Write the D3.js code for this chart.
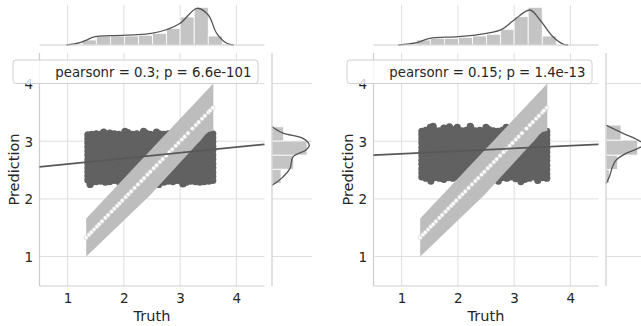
<!DOCTYPE html>
<html><head><meta charset="utf-8">
<script src="https://cdn.jsdelivr.net/npm/d3@7"></script>
<style>
body{margin:0;background:#fff}
svg{display:block}
text{font-family:"DejaVu Sans",sans-serif;fill:#262626}
</style>
</head><body>
<svg id="chart" width="641" height="326"></svg>
<script>
// ---------------- data ----------------
const xTicks = [1, 2, 3, 4];
const yTicks = [1, 2, 3, 4];
const xLabel = "Truth";
const yLabel = "Prediction";
const legendLabels = ["pearsonr = 0.3; p = 6.6e-101", "pearsonr = 0.15; p = 1.4e-13"];

// truth levels of the scatter columns
const truthLevels = [1.36,1.43,1.51,1.59,1.67,1.75,1.83,1.91,1.99,2.07,2.15,2.23,2.31,2.39,2.47,2.55,2.63,2.71,2.79,2.87,2.95,3.03,3.11,3.19,3.27,3.35,3.43,3.51,3.58];

// predictions per truth column, left model
const predLeft = [
 [2.33,2.40,2.47,2.54,2.61,2.68,2.76,2.83,2.90,2.97,3.04,3.11],
 [2.29,2.36,2.44,2.51,2.59,2.66,2.74,2.81,2.89,2.96,3.04,3.12],
 [2.30,2.38,2.45,2.53,2.60,2.68,2.75,2.83,2.90,2.98,3.05,3.13],
 [2.31,2.38,2.46,2.53,2.61,2.68,2.76,2.83,2.91,2.98,3.06,3.12],
 [2.29,2.37,2.44,2.52,2.59,2.67,2.74,2.82,2.89,2.97,3.04,3.11],
 [2.30,2.38,2.45,2.53,2.60,2.68,2.76,2.83,2.91,2.98,3.06,3.14],
 [2.32,2.39,2.46,2.54,2.61,2.69,2.76,2.84,2.91,2.99,3.06,3.13],
 [2.30,2.37,2.45,2.52,2.60,2.67,2.75,2.82,2.90,2.97,3.05,3.12],
 [2.29,2.36,2.44,2.51,2.59,2.66,2.74,2.81,2.89,2.96,3.04,3.11],
 [2.31,2.38,2.46,2.53,2.61,2.68,2.76,2.83,2.91,2.98,3.06,3.15],
 [2.30,2.37,2.45,2.52,2.60,2.67,2.75,2.82,2.90,2.97,3.05,3.12],
 [2.32,2.39,2.47,2.54,2.62,2.69,2.76,2.84,2.91,2.99,3.06,3.13],
 [2.29,2.37,2.44,2.52,2.59,2.67,2.74,2.82,2.89,2.97,3.04,3.11],
 [2.30,2.38,2.45,2.53,2.60,2.68,2.75,2.83,2.90,2.98,3.05,3.14],
 [2.31,2.38,2.46,2.53,2.61,2.68,2.76,2.83,2.91,2.98,3.06,3.12],
 [2.33,2.40,2.47,2.54,2.62,2.69,2.76,2.84,2.91,2.98,3.05,3.11],
 [2.30,2.37,2.45,2.52,2.60,2.67,2.75,2.82,2.90,2.97,3.05,3.13],
 [2.29,2.36,2.44,2.51,2.59,2.66,2.74,2.81,2.89,2.96,3.04,3.12],
 [2.31,2.38,2.46,2.53,2.61,2.68,2.76,2.83,2.91,2.98,3.06,3.13],
 [2.30,2.38,2.45,2.53,2.60,2.68,2.75,2.83,2.90,2.98,3.05,3.12],
 [2.32,2.39,2.46,2.54,2.61,2.69,2.76,2.84,2.91,2.99,3.06,3.11],
 [2.30,2.37,2.45,2.52,2.60,2.67,2.75,2.82,2.90,2.97,3.05,3.12],
 [2.29,2.37,2.44,2.52,2.59,2.67,2.74,2.82,2.89,2.97,3.04,3.12],
 [2.31,2.38,2.46,2.53,2.61,2.68,2.76,2.83,2.91,2.98,3.06,3.13],
 [2.30,2.37,2.45,2.52,2.60,2.67,2.75,2.82,2.90,2.97,3.05,3.13],
 [2.29,2.36,2.44,2.51,2.59,2.66,2.74,2.81,2.89,2.96,3.04,3.12],
 [2.30,2.38,2.45,2.53,2.60,2.68,2.75,2.83,2.90,2.98,3.05,3.14],
 [2.31,2.38,2.46,2.53,2.61,2.68,2.76,2.83,2.91,2.98,3.06,3.12],
 [2.32,2.39,2.46,2.54,2.61,2.69,2.76,2.84,2.91,2.99,3.06,3.13]
];
// scattered edge points of the left model [truth, prediction]
const extraLeft = [[1.40,2.25],[1.98,2.26],[2.62,2.25],[3.05,2.26],[1.64,3.16],[2.02,3.17],[2.35,3.17],[2.58,3.16],[3.40,3.17]];

// predictions per truth column, right model
const predRight = [
 [2.38,2.45,2.52,2.60,2.67,2.75,2.82,2.89,2.97,3.04,3.11,3.17],
 [2.36,2.43,2.51,2.58,2.66,2.73,2.81,2.88,2.96,3.03,3.11,3.19],
 [2.35,2.43,2.50,2.58,2.65,2.73,2.80,2.88,2.95,3.03,3.10,3.18,3.24],
 [2.37,2.44,2.52,2.59,2.67,2.74,2.82,2.89,2.97,3.04,3.12,3.19],
 [2.36,2.43,2.51,2.58,2.66,2.73,2.81,2.88,2.96,3.03,3.11,3.18],
 [2.34,2.42,2.50,2.57,2.65,2.72,2.80,2.87,2.95,3.02,3.10,3.17,3.23],
 [2.37,2.44,2.52,2.59,2.67,2.74,2.82,2.89,2.97,3.04,3.12,3.19],
 [2.36,2.43,2.51,2.58,2.66,2.73,2.81,2.88,2.96,3.03,3.11,3.20],
 [2.38,2.45,2.52,2.60,2.67,2.75,2.82,2.89,2.97,3.04,3.11,3.18,3.24],
 [2.35,2.43,2.50,2.58,2.65,2.73,2.80,2.88,2.95,3.03,3.10,3.18],
 [2.37,2.44,2.52,2.59,2.67,2.74,2.82,2.89,2.97,3.04,3.12,3.19],
 [2.34,2.42,2.50,2.57,2.65,2.72,2.80,2.87,2.95,3.02,3.10,3.17,3.23],
 [2.36,2.43,2.51,2.58,2.66,2.73,2.81,2.88,2.96,3.03,3.11,3.18],
 [2.38,2.45,2.52,2.60,2.67,2.75,2.82,2.89,2.97,3.04,3.11,3.19],
 [2.35,2.43,2.50,2.58,2.65,2.73,2.80,2.88,2.95,3.03,3.10,3.17],
 [2.37,2.44,2.52,2.59,2.67,2.74,2.82,2.89,2.97,3.04,3.12,3.20],
 [2.36,2.43,2.51,2.58,2.66,2.73,2.81,2.88,2.96,3.03,3.11,3.18],
 [2.34,2.42,2.50,2.57,2.65,2.72,2.80,2.87,2.95,3.02,3.10,3.17],
 [2.37,2.44,2.52,2.59,2.67,2.74,2.82,2.89,2.97,3.04,3.12,3.19],
 [2.36,2.43,2.51,2.58,2.66,2.73,2.81,2.88,2.96,3.03,3.11,3.18],
 [2.38,2.45,2.52,2.60,2.67,2.75,2.82,2.89,2.97,3.04,3.11,3.17],
 [2.35,2.43,2.50,2.58,2.65,2.73,2.80,2.88,2.95,3.03,3.10,3.18],
 [2.37,2.44,2.52,2.59,2.67,2.74,2.82,2.89,2.97,3.04,3.12,3.19],
 [2.34,2.42,2.50,2.57,2.65,2.72,2.80,2.87,2.95,3.02,3.10,3.17],
 [2.36,2.43,2.51,2.58,2.66,2.73,2.81,2.88,2.96,3.03,3.11,3.18],
 [2.38,2.45,2.52,2.60,2.67,2.75,2.82,2.89,2.97,3.04,3.11,3.18],
 [2.35,2.43,2.50,2.58,2.65,2.73,2.80,2.88,2.95,3.03,3.10,3.17],
 [2.37,2.44,2.52,2.59,2.67,2.74,2.82,2.89,2.97,3.04,3.12,3.18],
 [2.36,2.43,2.51,2.58,2.66,2.73,2.81,2.88,2.96,3.03,3.11,3.17]
];
// scattered edge points of the right model [truth, prediction]
const extraRight = [[1.56,3.26],[1.85,3.25],[2.22,3.26],[2.50,3.24],[2.86,3.24],[1.52,2.31],[2.30,2.30],[2.72,2.31],[3.12,2.30],[3.42,2.32]];

// identity points (truth vs truth) and their band
const diagTruth = [1.33,1.38,1.42,1.47,1.52,1.56,1.61,1.67,1.72,1.78,1.83,1.88,1.92,1.97,2.03,2.08,2.13,2.19,2.25,2.31,2.36,2.42,2.47,2.53,2.58,2.64,2.69,2.75,2.81,2.86,2.92,2.97,3.03,3.08,3.14,3.22,3.28,3.33,3.39,3.44,3.50,3.53,3.58];
const bandUpper = [[1.33,1.66],[3.59,4.00]];
const bandLower = [[1.33,1.00],[2.47,2.07],[3.18,2.82],[3.30,2.95],[3.36,3.01],[3.44,3.11],[3.50,3.16],[3.59,3.18]];

// regression lines (ends at the axis limits)
const regLeft = [[0.5,2.557],[4.5,2.946]];
const regRight = [[0.5,2.76],[4.5,2.946]];

// top marginal (truth) histograms and KDEs
const histTopEdges = [1.26,1.51,1.76,2.01,2.26,2.51,2.76,3.00,3.25,3.50,3.75];
const histTopLeft = [5,9,9,9,9.7,11.7,16.7,28,37.7,9];
const histTopRight = [5,6.7,6.7,7.7,9,10.7,15.7,28.3,37.7,9];
const kdeTopLeft = [[0.98,0],[1.22,2.3],[1.49,8.3],[1.75,9.3],[2.23,10.3],[2.49,11.7],[2.74,15],[3.0,21.7],[3.30,36.7],[3.50,30],[3.65,11.7],[3.83,1.7],[3.95,0]];
const kdeTopRight = [[0.94,0],[1.27,2.3],[1.50,6.7],[2.01,8.3],[2.51,11.7],[2.78,15.7],[3.0,25],[3.28,35],[3.46,25],[3.69,8.3],[3.88,0.7],[3.96,0]];

// right marginal (prediction) histograms and KDEs
const histSideEdgesLeft = [2.27,2.515,2.76,3.005,3.25];
const histSideLeft = [9,21.7,35,11.7];
const histSideEdgesRight = [2.27,2.51,2.76,3.02,3.28];
const histSideRight = [3.3,11.7,31.7,15];
const kdeSideLeft = [[3.25,0],[3.14,11],[3.05,31],[2.93,37.3],[2.85,34],[2.73,21],[2.53,18],[2.36,9.7],[2.27,3],[2.24,0]];
const kdeSideRight = [[3.28,0],[3.14,16.6],[3.02,32],[2.94,38],[2.86,30],[2.79,20],[2.67,10],[2.56,6.6],[2.38,3.3],[2.27,0]];

// ---------------- drawing ----------------
const svg = d3.select("#chart");
const GRID = "#dedede", SPINE = "#cdcdcd", DARK = "#616161";
const panels = [
  {off: 0, preds: predLeft, extra: extraLeft, reg: regLeft, hTop: histTopLeft, kTop: kdeTopLeft,
   sEdges: histSideEdgesLeft, hSide: histSideLeft, kSide: kdeSideLeft, legend: legendLabels[0]},
  {off: 334, preds: predRight, extra: extraRight, reg: regRight, hTop: histTopRight, kTop: kdeTopRight,
   sEdges: histSideEdgesRight, hSide: histSideRight, kSide: kdeSideRight, legend: legendLabels[1]}
];

panels.forEach(p => {
  const o = p.off;
  const x = d3.scaleLinear().domain([0.5, 4.5]).range([39.5 + o, 264.5 + o]);
  const y = d3.scaleLinear().domain([0.49, 4.53]).range([286, 53]);
  const yTop = d3.scaleLinear().domain([0, 40]).range([45, 5]);
  const xSide = d3.scaleLinear().domain([0, 40]).range([272 + o, 312 + o]);
  const g = svg.append("g");

  // main grid
  g.append("g").selectAll("line").data(xTicks).join("line")
    .attr("x1", d => x(d)).attr("x2", d => x(d)).attr("y1", 53).attr("y2", 286)
    .attr("stroke", GRID).attr("stroke-width", 1);
  g.append("g").selectAll("line").data(yTicks).join("line")
    .attr("x1", x.range()[0]).attr("x2", x.range()[1]).attr("y1", d => y(d)).attr("y2", d => y(d))
    .attr("stroke", GRID).attr("stroke-width", 1);

  // top marginal grid
  g.append("g").selectAll("line").data(xTicks).join("line")
    .attr("x1", d => x(d)).attr("x2", d => x(d)).attr("y1", 5).attr("y2", 45)
    .attr("stroke", GRID).attr("stroke-width", 1);
  // side marginal grid
  g.append("g").selectAll("line").data(yTicks).join("line")
    .attr("x1", xSide.range()[0]).attr("x2", xSide.range()[1]).attr("y1", d => y(d)).attr("y2", d => y(d))
    .attr("stroke", GRID).attr("stroke-width", 1);

  // top histogram
  g.append("g").selectAll("rect").data(p.hTop).join("rect")
    .attr("x", (d, i) => x(histTopEdges[i]))
    .attr("width", (d, i) => x(histTopEdges[i + 1]) - x(histTopEdges[i]))
    .attr("y", d => yTop(d)).attr("height", d => yTop(0) - yTop(d))
    .attr("fill", "#c4c4c4").attr("stroke", "#fff").attr("stroke-width", 0.8);
  g.append("path").datum(p.kTop)
    .attr("d", d3.line().x(d => x(d[0])).y(d => yTop(d[1])).curve(d3.curveCatmullRom.alpha(0.5)))
    .attr("fill", "none").attr("stroke", "#555").attr("stroke-width", 1.3);

  // side histogram
  g.append("g").selectAll("rect").data(p.hSide).join("rect")
    .attr("x", xSide(0))
    .attr("width", d => xSide(d) - xSide(0))
    .attr("y", (d, i) => y(p.sEdges[i + 1]))
    .attr("height", (d, i) => y(p.sEdges[i]) - y(p.sEdges[i + 1]))
    .attr("fill", "#c4c4c4").attr("stroke", "#fff").attr("stroke-width", 0.8);
  g.append("path").datum(p.kSide)
    .attr("d", d3.line().x(d => xSide(d[1])).y(d => y(d[0])).curve(d3.curveCatmullRom.alpha(0.5)))
    .attr("fill", "none").attr("stroke", "#555").attr("stroke-width", 1.3);

  // spines
  g.append("line").attr("x1", x.range()[0]).attr("x2", x.range()[1]).attr("y1", 45).attr("y2", 45)
    .attr("stroke", SPINE).attr("stroke-width", 1.2);
  g.append("line").attr("x1", xSide(0)).attr("x2", xSide(0)).attr("y1", 53).attr("y2", 286)
    .attr("stroke", SPINE).attr("stroke-width", 1.2);
  g.append("line").attr("x1", x.range()[0]).attr("x2", x.range()[0]).attr("y1", 53).attr("y2", 286)
    .attr("stroke", SPINE).attr("stroke-width", 1.2);
  g.append("line").attr("x1", x.range()[0]).attr("x2", x.range()[1]).attr("y1", 286).attr("y2", 286)
    .attr("stroke", SPINE).attr("stroke-width", 1.2);

  // scatter
  const pts = [];
  truthLevels.forEach((t, i) => p.preds[i].forEach(v => pts.push([t, v])));
  p.extra.forEach(d => pts.push(d));
  g.append("g").selectAll("circle").data(pts).join("circle")
    .attr("cx", d => x(d[0])).attr("cy", d => y(d[1])).attr("r", 3.6)
    .attr("fill", DARK);

  // identity band
  const poly = bandUpper.concat(bandLower.slice().reverse());
  g.append("path")
    .attr("d", d3.line().x(d => x(d[0])).y(d => y(d[1]))(poly) + "Z")
    .attr("fill", "#bdbdbd");
  g.append("g").selectAll("circle").data(diagTruth).join("circle")
    .attr("cx", d => x(d)).attr("cy", d => y(d)).attr("r", 2.1)
    .attr("fill", "#fff").attr("stroke", "#cfcfcf").attr("stroke-width", 0.6);

  // regression line
  g.append("path").datum(p.reg)
    .attr("d", d3.line().x(d => x(d[0])).y(d => y(d[1])))
    .attr("stroke", "#585858").attr("stroke-width", 1.8).attr("fill", "none");

  // axes (labels only)
  const ax = g.append("g").attr("transform", "translate(0,286)")
    .call(d3.axisBottom(x).tickValues(xTicks).tickSize(0).tickPadding(7.6).tickFormat(d3.format("d")));
  ax.select(".domain").remove();
  ax.selectAll("text").attr("font-size", 13.5).attr("font-family", "DejaVu Sans").attr("fill", "#262626");
  const ay = g.append("g").attr("transform", `translate(${x.range()[0]},0)`)
    .call(d3.axisLeft(y).tickValues(yTicks).tickSize(0).tickPadding(6.5).tickFormat(d3.format("d")));
  ay.select(".domain").remove();
  ay.selectAll("text").attr("font-size", 13.5).attr("dy", "0.365em").attr("font-family", "DejaVu Sans").attr("fill", "#262626");

  g.append("text").attr("x", (x.range()[0] + x.range()[1]) / 2).attr("y", 320.5)
    .attr("text-anchor", "middle").attr("font-size", 14.5).text(xLabel);
  g.append("text").attr("transform", `translate(${19 + o},169.5) rotate(-90)`)
    .attr("text-anchor", "middle").attr("font-size", 14.5).text(yLabel);

  // legend box
  g.append("rect").attr("x", 13 + o).attr("y", 60).attr("width", 245).attr("height", 23.5)
    .attr("rx", 3).attr("fill", "#fff").attr("fill-opacity", 0.8)
    .attr("stroke", "#d0d0d0").attr("stroke-width", 1);
  g.append("text").attr("x", 251.5 + o).attr("y", 76.8).attr("text-anchor", "end")
    .attr("font-size", 13.3).text(p.legend);
});
</script>
</body></html>
